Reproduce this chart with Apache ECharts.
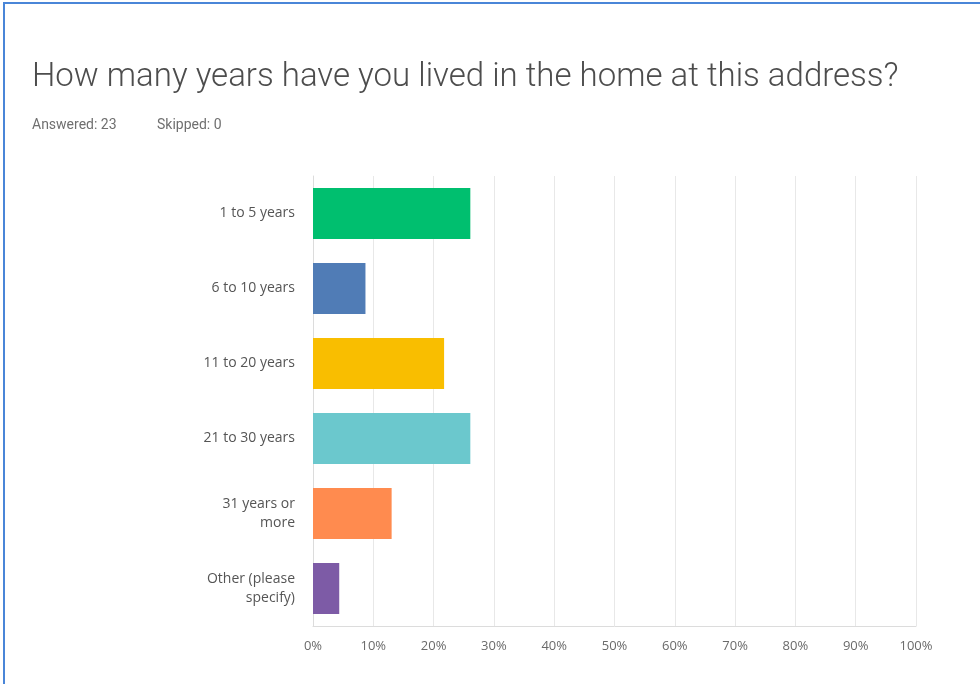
<!DOCTYPE html>
<html>
<head>
<meta charset="utf-8">
<script src="https://cdn.jsdelivr.net/npm/echarts@6/dist/echarts.min.js"></script>
<style>
  html, body { margin: 0; padding: 0; background: #ffffff; }
  #chart { width: 980px; height: 684px; }
</style>
</head>
<body>
<div id="chart"></div>
<script>
// Survey question: answer choices and share of respondents (%)
const categories = ['1 to 5 years', '6 to 10 years', '11 to 20 years', '21 to 30 years', '31 years or\nmore', 'Other (please\nspecify)'];
const percentages = [26.09, 8.70, 21.74, 26.09, 13.04, 4.35];
const barColors = ['#00bf6f', '#507cb6', '#f9be00', '#6bc8cd', '#ff8b4f', '#7d5ba6'];
const tickValues = [0, 10, 20, 30, 40, 50, 60, 70, 80, 90, 100];

const chart = echarts.init(document.getElementById('chart'), null, { renderer: 'canvas' });

chart.setOption({
  backgroundColor: '#ffffff',
  animation: false,
  graphic: [
    // blue frame along the top and left edges
    { type: 'line', shape: { x1: 3, y1: 3, x2: 980, y2: 3 }, style: { stroke: '#4a86d8', lineWidth: 2 } },
    { type: 'line', shape: { x1: 4, y1: 3, x2: 4, y2: 684 }, style: { stroke: '#4a86d8', lineWidth: 2 } },
    // response counts under the question
    { type: 'text', left: 32, top: 118, style: { text: 'Answered: 23', font: '400 14px Roboto', fill: '#6f6f6f' } },
    { type: 'text', left: 157, top: 118, style: { text: 'Skipped: 0', font: '400 14px Roboto', fill: '#6f6f6f' } }
  ],
  title: {
    text: 'How many years have you lived in the home at this address?',
    left: 27, top: 56,
    textStyle: { fontFamily: 'Roboto', fontWeight: 300, fontSize: 33, color: '#4d4d4d' }
  },
  grid: { left: 313, right: 64, top: 176, bottom: 58, containLabel: false },
  xAxis: {
    type: 'value',
    min: 0, max: 100, interval: 10,
    axisLine: { show: true, lineStyle: { color: '#dcdcdc' } },
    axisTick: { show: false },
    splitLine: { show: true, lineStyle: { color: '#e8e8e8', width: 1 } },
    axisLabel: {
      margin: 14,
      fontFamily: 'Open Sans', fontSize: 13, color: '#6a6a6a',
      formatter: v => tickValues.includes(v) ? v + '%' : ''
    }
  },
  yAxis: {
    type: 'category',
    inverse: true,
    data: categories,
    axisLine: { show: true, lineStyle: { color: '#dcdcdc' } },
    axisTick: { show: false },
    axisLabel: {
      margin: 18,
      lineHeight: 19,
      fontFamily: 'Open Sans', fontSize: 14, color: '#555555', align: 'right'
    }
  },
  series: [{
    type: 'bar',
    data: percentages.map((v, i) => ({ value: v, itemStyle: { color: barColors[i] } })),
    barWidth: 51
  }]
});
</script>
</body>
</html>
